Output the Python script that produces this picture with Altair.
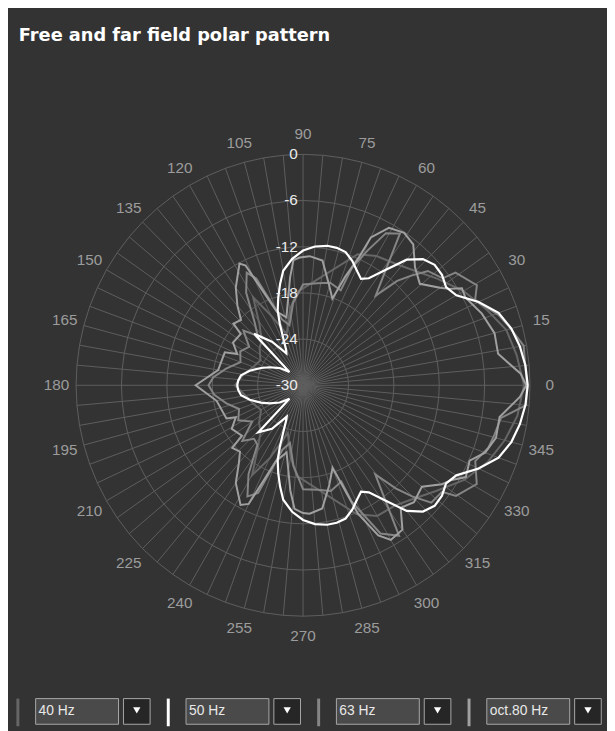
import altair as alt
import pandas as pd

TITLE = "Free and far field polar pattern"
SERIES = ["40 Hz", "50 Hz", "63 Hz", "oct.80 Hz"]
COLORS = ["#666666", "#ffffff", "#858585", "#a0a0a0"]

# 40 Hz (dark grey)
ANG_40 = [0, 8, 15, 22, 30, 38, 45, 52, 60, 67, 94, 100, 108, 115, 120, 126, 133, 140, 150, 160, 170, 180,
          190, 200, 210, 220, 227, 234, 240, 245, 252, 260, 266, 293, 300, 308, 315, 322, 330, 338, 345, 352, 360]
DB_40 = [-0.8, -1.5, -2.2, -3.8, -5.5, -7.5, -9.0, -10.0, -10.6, -11.5, -17.9, -20.0, -23.0, -20.0, -16.8, -20.2, -22.0, -22.5, -23.5, -23.0, -22.0, -21.0,
         -22.3, -23.0, -23.6, -22.4, -21.8, -19.8, -16.5, -19.5, -23.5, -20.5, -18.2, -11.8, -10.4, -10.2, -9.2, -7.7, -5.4, -3.6, -2.4, -1.4, -0.8]

# 50 Hz (white)
ANG_50 = [0, 5, 10, 15, 20, 25, 30, 34, 38, 42, 46, 50, 54, 58, 61, 64, 68, 72, 76, 80, 85, 90, 95, 100, 103, 106,
          109, 111, 113, 116, 118, 126, 134, 136, 144, 152, 158, 165, 171, 176, 180,
          184, 189, 195, 202, 208, 216, 224, 226, 234, 242, 244, 247, 249, 251, 254, 257, 260, 265, 270, 275,
          280, 284, 288, 292, 296, 299, 302, 306, 310, 314, 318, 322, 326, 330, 335, 340, 345, 350, 355, 360]
DB_50 = [-0.3, -0.5, -0.9, -1.5, -2.5, -4.4, -6.6, -7.2, -6.7, -6.6, -7.2, -8.7, -11.5, -13.6, -14.2, -13.6, -12.6, -11.8, -11.6, -11.6, -11.9, -12.5, -13.5, -14.9, -16.5, -18.1,
         -19.7, -21.4, -23.2, -24.9, -25.3, -23.0, -20.7, -27.5, -26.2, -25.0, -24.0, -22.7, -21.7, -21.4, -21.3,
         -21.4, -21.7, -22.7, -24.0, -25.0, -26.2, -27.5, -21.5, -23.0, -25.4, -24.9, -23.2, -21.4, -19.7, -18.1, -16.5, -14.9, -13.5, -12.5, -11.9,
         -11.6, -11.6, -11.8, -12.6, -13.6, -14.2, -13.6, -11.5, -8.7, -7.2, -6.6, -6.7, -7.2, -6.6, -4.4, -2.5, -1.5, -0.9, -0.5, -0.3]

# 63 Hz (mid grey)
ANG_63 = [0, 10, 16, 19.5, 26, 29.5, 36, 37, 42, 45, 47.5, 50.5, 57, 61, 64, 67, 68, 75, 82, 90, 97, 103, 108, 114, 117,
          122, 128, 133, 138, 145, 152, 160, 168, 175, 180,
          186, 193, 200, 208, 215, 222, 227, 232, 238, 243, 247, 252, 257, 263, 270, 278, 285, 292, 293, 298, 303,
          309.5, 312.5, 315, 318, 323, 324.6, 330.8, 336.6, 341.7, 345.8, 350.8, 355, 360]
DB_63 = [-0.4, -0.4, -1.8, -2.6, -4.7, -3.6, -5.1, -6.9, -7.8, -9.9, -11.6, -14.9, -6.5, -7.4, -10.5, -13.4, -16.7, -16.2, -16.6, -16.9, -19.2, -22.0, -21.0, -14.8, -13.6,
         -15.8, -19.6, -21.2, -19.4, -21.3, -20.6, -21.2, -19.6, -18.1, -17.5,
         -18.2, -19.6, -21.0, -20.3, -21.8, -19.2, -20.5, -20.2, -16.4, -13.8, -14.8, -21.2, -22.3, -19.5, -16.5, -16.3, -15.8, -16.5, -13.6, -8.2, -6.7,
         -15.0, -11.8, -9.6, -7.2, -7.0, -5.2, -3.7, -5.2, -4.2, -3.9, -3.5, -0.4, -0.4]

# oct.80 Hz (light grey)
ANG_80 = [0, 3, 9, 15, 21.5, 28, 31, 33, 35, 40.5, 46, 51.5, 56, 61, 65, 66, 68.5, 71, 75.5, 81, 87, 91.5, 94.5, 97, 104,
          110, 116, 118, 125, 130, 134, 139, 141, 149, 155, 157.5, 170, 180,
          190, 203, 205, 211, 219, 221, 226, 230, 235, 242, 245, 250, 256, 263, 266, 270, 273, 279, 285, 290, 293.5,
          297, 300, 305, 309, 314, 320, 325, 328, 331, 336, 340, 345, 351, 357, 360]
DB_80 = [-0.5, -1.2, -3.9, -3.8, -4.6, -5.7, -5.5, -7.0, -7.9, -9.7, -8.7, -6.6, -6.1, -6.6, -8.8, -11.7, -14.9, -18.1, -16.4, -13.6, -13.2, -13.4, -13.7, -15.9, -20.9,
         -19.8, -12.7, -12.1, -14.5, -16.5, -18.2, -17.8, -19.4, -19.2, -20.4, -18.8, -18.6, -15.8,
         -18.4, -19.0, -20.2, -19.0, -19.6, -17.6, -18.0, -16.8, -14.5, -12.4, -13.0, -19.5, -21.0, -16.2, -13.9, -13.4, -13.3, -13.8, -16.6, -18.6, -11.8,
         -8.1, -6.8, -7.1, -9.5, -8.9, -9.5, -7.6, -6.8, -5.4, -5.9, -4.4, -3.6, -3.7, -1.3, -0.5]

RING_DB = [-30, -24, -18, -12, -6, 0]
ANGLE_TICKS = list(range(0, 360, 15))
SPOKE_ANGLES = list(range(0, 360, 5))

# ---------- tables ----------
rows = []
for name, angs, dbs in zip(SERIES, [ANG_40, ANG_50, ANG_63, ANG_80], [DB_40, DB_50, DB_63, DB_80]):
    assert len(angs) == len(dbs), name
    for i, (a, d) in enumerate(zip(angs, dbs)):
        rows.append({"series": name, "i": i, "ang": a, "db": d})
curves = pd.DataFrame(rows)

ring_rows = []
for d in RING_DB[1:]:
    for k in range(0, 73):
        ring_rows.append({"ring": d, "i": k, "ang": k * 5, "db": d})
rings = pd.DataFrame(ring_rows)
spokes = pd.DataFrame({"ang": SPOKE_ANGLES})
ticks = pd.DataFrame({"ang": ANGLE_TICKS, "label": [str(a) for a in ANGLE_TICKS]})
dblab = pd.DataFrame({"db": RING_DB, "label": [str(d) for d in RING_DB]})
legend = pd.DataFrame({"series": SERIES, "idx": list(range(len(SERIES)))})

# scales: centre of the polar plot, radius 30 units (0 dB ring)
W, H = 607, 723
XS = alt.Scale(domain=[-39.0, (W - 299) / 7.6667], nice=False, zero=False)
YS = alt.Scale(domain=[-(H - 377.5) / 7.8, 377.5 / 7.8], nice=False, zero=False)
cscale = alt.Scale(domain=SERIES, range=COLORS)

XY = "(datum.db + 30)"
def polar(ch):
    return ch.transform_calculate(
        x=f"{XY} * cos(datum.ang * PI / 180)",
        y=f"{XY} * sin(datum.ang * PI / 180)",
    )

ring_layer = polar(alt.Chart(rings)).mark_line(color="#5e5e5e", strokeWidth=1).encode(
    x=alt.X("x:Q", scale=XS, axis=None),
    y=alt.Y("y:Q", scale=YS, axis=None),
    detail="ring:N",
    order="i:Q",
)

spoke_layer = alt.Chart(spokes).transform_calculate(
    x0="0", y0="0",
    x1="30 * cos(datum.ang * PI / 180)",
    y1="30 * sin(datum.ang * PI / 180)",
).mark_rule(color="#5e5e5e", strokeWidth=1).encode(
    x=alt.X("x0:Q", scale=XS, axis=None),
    y=alt.Y("y0:Q", scale=YS, axis=None),
    x2="x1:Q",
    y2="y1:Q",
)

tick_layer = alt.Chart(ticks).transform_calculate(
    x="32.6 * cos(datum.ang * PI / 180)",
    y="32.6 * sin(datum.ang * PI / 180)",
).mark_text(color="#9c9c9c", fontSize=15.5, font="Liberation Sans", align="center", baseline="middle").encode(
    x=alt.X("x:Q", scale=XS, axis=None),
    y=alt.Y("y:Q", scale=YS, axis=None),
    text="label:N",
)

gray_layer = polar(alt.Chart(curves)).transform_filter(
    "datum.series != '50 Hz'"
).mark_line(strokeWidth=2).encode(
    x=alt.X("x:Q", scale=XS, axis=None),
    y=alt.Y("y:Q", scale=YS, axis=None),
    color=alt.Color("series:N", scale=cscale, legend=None),
    order="i:Q",
)

white_layer = polar(alt.Chart(curves)).transform_filter(
    "datum.series == '50 Hz'"
).mark_line(strokeWidth=2.2).encode(
    x=alt.X("x:Q", scale=XS, axis=None),
    y=alt.Y("y:Q", scale=YS, axis=None),
    color=alt.Color("series:N", scale=cscale, legend=None),
    order="i:Q",
)

db_layer = alt.Chart(dblab).transform_calculate(
    x="-0.7", y="datum.db + 30"
).mark_text(color="#ececec", fontSize=15.5, font="Liberation Sans", align="right", baseline="middle").encode(
    x=alt.X("x:Q", scale=XS, axis=None),
    y=alt.Y("y:Q", scale=YS, axis=None),
    text="label:N",
)

title_layer = alt.Chart(pd.DataFrame({"t": [TITLE]})).mark_text(
    color="#ffffff", fontSize=18, font="DejaVu Sans", fontWeight="bold",
    align="left", baseline="alphabetic",
).encode(x=alt.value(11), y=alt.value(29), text="t:N")

# bottom frequency selectors
STEP = 152.4
leg = alt.Chart(legend).transform_calculate(
    sx=f"10 + datum.idx * {STEP}",
    bx=f"28 + datum.idx * {STEP}",
    bx2=f"112 + datum.idx * {STEP}",
    ax=f"117 + datum.idx * {STEP}",
    ax2=f"144 + datum.idx * {STEP}",
    tx=f"31 + datum.idx * {STEP}",
    px=f"130.5 + datum.idx * {STEP}",
)
sep_layer = leg.mark_rule(strokeWidth=3).encode(
    x=alt.X("sx:Q", scale=None),
    y=alt.value(695), y2=alt.value(723),
    color=alt.Color("series:N", scale=cscale, legend=None),
)
box_layer = leg.mark_rect(fill="#4a4a4a", stroke="#a8a8a8", strokeWidth=1).encode(
    x=alt.X("bx:Q", scale=None), x2="bx2:Q",
    y=alt.value(695), y2=alt.value(721),
)
arrow_box = leg.mark_rect(fill="#262626", stroke="#a8a8a8", strokeWidth=1).encode(
    x=alt.X("ax:Q", scale=None), x2="ax2:Q",
    y=alt.value(695), y2=alt.value(721),
)
box_text = leg.mark_text(color="#e8e8e8", fontSize=14, font="Liberation Sans", align="left", baseline="middle").encode(
    x=alt.X("tx:Q", scale=None), y=alt.value(708), text="series:N",
)
arrow = leg.mark_point(shape="triangle-down", filled=True, color="#ffffff", size=55, opacity=1).encode(
    x=alt.X("px:Q", scale=None), y=alt.value(707),
)

chart = alt.layer(
    ring_layer, spoke_layer, tick_layer, gray_layer, white_layer, db_layer, title_layer,
    sep_layer, box_layer, arrow_box, box_text, arrow,
).resolve_scale(color="shared").properties(
    width=W, height=H, background="#333333", padding=0,
    autosize=alt.AutoSizeParams(type="none"),
).configure_view(strokeWidth=0)

chart.save("out.html", embed_options={"renderer": "svg", "actions": False})
